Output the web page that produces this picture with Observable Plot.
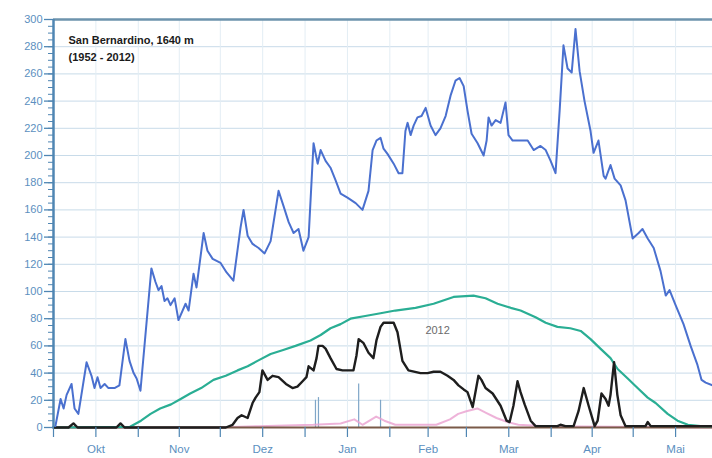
<!DOCTYPE html>
<html>
<head>
<meta charset="utf-8">
<script src="https://cdn.jsdelivr.net/npm/d3@7"></script>
<script src="https://cdn.jsdelivr.net/npm/@observablehq/plot@0.6"></script>
<style>
  html, body { margin: 0; padding: 0; background: #fff; }
  #chart svg { display: block; }
</style>
</head>
<body>
<div id="chart"></div>
<script>
// Days counted from 1 October; values in cm
const maxDay = [0.7,2.6,3.7,4.8,6.6,7.7,9.1,12.1,13.9,15,16.1,17.2,18.7,20.1,22.3,24.1,26.3,27.8,29.3,30.4,31.8,35.8,37.3,38.4,39.5,40.6,41.7,42.8,44.3,45.7,48.3,49.4,51.2,52.3,54.9,56.3,58.2,61.1,63.3,65.8,68.4,69.5,71,72.8,75,77.2,79.4,82.3,84.1,86,87.8,89.6,91.4,93.3,95.1,96.6,97.7,99.5,101.3,103.1,105,107.5,110.5,113,115.2,116.7,118.1,119.6,120.7,122.2,124.4,126.2,127.6,128.7,129.5,130.6,131.7,133.1,134.6,136.1,137.9,139.7,141.5,143.4,145.2,147,148.5,150,151.4,152.9,155.1,157.3,158.4,159.1,160.2,161.7,163.5,165.3,166.4,167.9,170.8,173.4,175.6,178.1,180,181.8,183.6,185.1,186.5,188,189.5,190.9,192.4,194.2,196.4,197.5,199.3,201.2,201.9,203.7,205.2,207.4,209.2,211.8,214,215.4,217.3,219.5,222,223.9,225.3,227.5,230.4,233,235.5,237,238.5,241];
const maxVal = [1,21,14,24,32,14,10,48,38,29,37,29,32,29,29,31,65,49,40,36,27,117,107,101,104,93,95,90,95,79,91,86,113,103,143,130,124,121,114,108,147,160,141,135,132,128,137,174,163,151,143,146,130,140,209,194,204,196,191,182,172,169,165,160,174,204,211,213,205,201,194,187,187,218,224,215,222,228,229,235,222,215,220,229,244,255,257,251,233,216,209,200,211,228,222,226,224,239,215,211,211,211,204,207,204,196,187,233,281,264,261,293,262,240,218,202,211,185,183,193,183,178,167,139,143,146,139,132,115,97,101,90,76,60,46,35,33,31];

const meanDay = [0,28,32,35.5,39,43,46.5,50,54,58.5,63,67.3,71,74.6,79.4,84,88.5,94,97.7,101.3,105,108.6,114,119.6,125,132.4,139,146.3,153.6,158,162.4,167.2,170.8,176.3,180,184.3,189,192.8,196.4,200,203.7,206.3,210,213.6,217.3,220.2,224.6,228.2,232,236.6,241];
const meanVal = [0,0.5,5,10,14,17,21,25,29,35,38,42,45,49,54,57,60,64,68,73,76,80,82,84,86,88,91,96,97,95,91,88,86,81,77,74,73,71,65,58,51,43,36,29,22,18,10,5,2,1,1];

const y2012Day = [0,5.5,7.3,8.8,23,24.5,26,63,65.5,67.3,68.8,71,72.8,73.9,75.3,76.4,78.3,80.1,82.3,85,87.4,89.2,91.1,92.5,93.3,95.1,96.2,96.9,98.4,99.5,101.3,103.5,105.7,109.7,110.8,111.6,113.4,115.2,117,118.1,119.6,120.7,124.4,125.8,127.6,129.8,134.2,136.8,139,141.5,144.1,146.3,148.1,150,151.4,153.3,154.4,155.4,156.5,158,160.6,163.5,165.7,166.8,168.2,169.7,170.8,172.3,174.5,176.3,184.3,185.4,187.2,190.2,192,193.9,195.7,197.9,199,200.4,201.9,203,203.7,205,206.2,207.4,209.2,216.5,217.3,218.4,241];
const y2012Val = [0,0,3,0,0,3,0,0,2,7,9,7,18,22,26,42,35,38,37,32,29,30,34,37,45,42,51,60,60,58,51,43,42,42,53,65,62,55,51,64,74,77,77,70,49,42,40,40,41,41,38,35,31,28,26,15,27,38,35,29,25,16,5,4,16,34,26,17,5,1,1,2,1,1,12,29,16,1,5,25,21,16,24,48,24,9,1,1,4,1,1];

const pinkDay = [0,60,75,95,105,110,113,118,121,125,140,145,148,151,155,158,162,166,170,180,241];
const pinkVal = [0,0,1,2,3,6,2,8,5,2,2,6,10,12,14,11,7,4,2,1,0];

const newSnowDay = [95.8,96.9,111.6,119.6];
const newSnowVal = [20,22,32,20];

const yTicks = d3.range(0, 301, 20);
const yMinor = d3.range(0, 301, 5);
const monthStart = [0,31,61,92,123,151,182,212];
const monthMid = [15.5,46,76.5,107.5,137,166.5,197,227.5];
const monthLabels = ["Okt","Nov","Dez","Jan","Feb","Mar","Apr","Mai"];

const titleLine1 = "San Bernardino, 1640 m";
const titleLine2 = "(1952 - 2012)";

const zipPts = (xs, ys) => xs.map((d, i) => ({day: d, val: ys[i]}));
const maxData = zipPts(maxDay, maxVal);
const meanData = zipPts(meanDay, meanVal);
const d2012 = zipPts(y2012Day, y2012Val);
const pinkData = zipPts(pinkDay, pinkVal);
const newSnow = zipPts(newSnowDay, newSnowVal);
const xTicks = [...monthStart, ...monthMid].sort((a, b) => a - b);

const axisColor = "#4f86b3";
const labelColor = "#5b8fc0";

const chart = Plot.plot({
  width: 712,
  height: 458,
  marginLeft: 53,
  marginRight: 0,
  marginTop: 19,
  marginBottom: 31,
  style: {fontFamily: "'Liberation Sans', Arial, sans-serif", background: "#fff"},
  x: {domain: [0, 241], axis: null, label: null},
  y: {domain: [0, 300], axis: null, label: null},
  marks: [
    Plot.gridY(yTicks, {stroke: "#c8dbe9", strokeOpacity: 1, strokeWidth: 1}),
    Plot.gridX(xTicks, {stroke: "#e3edf4", strokeOpacity: 1, strokeWidth: 1}),
    Plot.ruleX(newSnow, {x: "day", y1: 0, y2: "val", stroke: "#7fa6c8", strokeWidth: 1.2}),
    Plot.line(pinkData, {x: "day", y: "val", stroke: "#eaa0cf", strokeWidth: 2, strokeOpacity: 0.8}),
    Plot.ruleY([0], {stroke: "#7a5a48", strokeWidth: 2}),
    Plot.line(meanData, {x: "day", y: "val", stroke: "#2aae94", strokeWidth: 2.2}),
    Plot.line(d2012, {x: "day", y: "val", stroke: "#1e1e1e", strokeWidth: 2.4, strokeLinejoin: "round"}),
    Plot.line(maxData, {x: "day", y: "val", stroke: "#4a70cf", strokeWidth: 2, strokeLinejoin: "round"}),
    Plot.text(["2012"], {x: 136, y: 71, fill: "#6b6b6b", fontSize: 11, textAnchor: "start"}),
    Plot.text([titleLine1], {frameAnchor: "top-left", dx: 15, dy: 21, lineAnchor: "middle", textAnchor: "start", fontWeight: "bold", fontSize: 11, fill: "#1a1a1a"}),
    Plot.text([titleLine2], {frameAnchor: "top-left", dx: 15, dy: 38, lineAnchor: "middle", textAnchor: "start", fontWeight: "bold", fontSize: 11, fill: "#1a1a1a"}),
    // axes
    Plot.ruleY([300], {stroke: "#6d93ad", strokeWidth: 2.5}),
    Plot.axisY(yMinor, {anchor: "left", label: null, tickSize: 5, tickFormat: () => "", stroke: axisColor, strokeWidth: 1}),
    Plot.axisY(yTicks, {anchor: "left", label: null, tickSize: 9, tickPadding: 2, fill: labelColor, fontSize: 11, stroke: axisColor, strokeWidth: 1.3}),
    Plot.ruleX([0], {stroke: axisColor, strokeWidth: 2.5}),
    Plot.axisX(xTicks, {anchor: "bottom", label: null, tickSize: 10, tickFormat: () => "", stroke: axisColor, strokeWidth: 1.2}),
    Plot.axisX(monthMid, {anchor: "bottom", label: null, tickSize: 0, tickPadding: 17, tickFormat: d => monthLabels[monthMid.indexOf(d)], fill: labelColor, fontSize: 11.5})
  ]
});
document.getElementById("chart").appendChild(chart);
</script>
</body>
</html>
